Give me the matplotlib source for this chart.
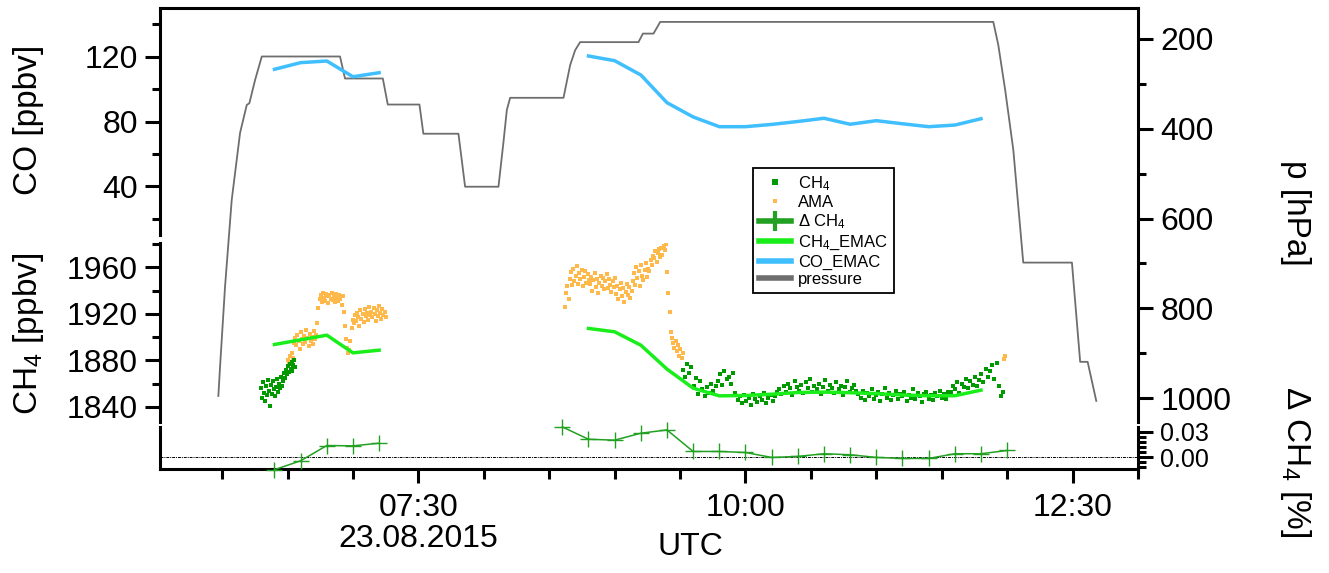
import numpy as np
import matplotlib.pyplot as plt
from matplotlib.ticker import MultipleLocator, FixedLocator, FormatStrFormatter
from matplotlib.lines import Line2D
import matplotlib.transforms as mtransforms

plt.rcParams['font.family'] = ['Liberation Sans', 'DejaVu Sans']
plt.rcParams['mathtext.fontset'] = 'custom'
plt.rcParams['mathtext.rm'] = 'Liberation Sans'
plt.rcParams['mathtext.it'] = 'Liberation Sans:italic'
plt.rcParams['mathtext.bf'] = 'Liberation Sans:bold'

# time axis: hours UTC on 23.08.2015
# flight pressure [hPa]
p_time = [5.971, 5.984, 6.022, 6.073, 6.137, 6.188, 6.208, 6.252, 6.303, 6.901, 6.939,
          7.228, 7.266, 7.508, 7.538, 7.806, 7.857, 8.112, 8.15, 8.176, 8.201, 8.609,
          8.660, 8.698, 8.736, 9.182, 9.216, 9.297, 9.348, 11.894, 11.932, 11.985,
          12.047, 12.123, 12.495, 12.558, 12.615, 12.681]
p_hpa = [995, 930, 752, 559, 409, 347, 343, 291, 239, 239, 288,
         288, 346, 346, 411, 411, 529, 529, 430, 358, 331, 331,
         258, 225, 207, 207, 188, 188, 162, 162, 213, 314,
         447, 698, 698, 919, 919, 1006]

# EMAC model output (12 min)
emac_t1 = [6.4, 6.6, 6.8, 7.0, 7.2]
emac_t2 = [8.8, 9.0, 9.2, 9.4, 9.6, 9.8, 10.0, 10.2, 10.4, 10.6, 10.8, 11.0, 11.2, 11.4, 11.6, 11.8]
co_emac1 = [112.2, 116.3, 117.3, 107.6, 110.1]
co_emac2 = [120.4, 117.5, 108.7, 91.6, 82.8, 76.8, 76.8, 78.2, 80.0, 82.0, 78.3, 80.5, 78.6, 76.8, 77.8, 81.7]
ch4_emac1 = [1893.7, 1897.7, 1901.7, 1886.5, 1888.8]
ch4_emac2 = [1907.5, 1904.6, 1893.1, 1872.5, 1856.1, 1849.5, 1849.8, 1850.9, 1852.4, 1852.7,
             1852.2, 1851.4, 1850.2, 1849.6, 1849.6, 1854.4]

# relative difference [%]
dch4_t1 = [6.4, 6.6, 6.8, 7.0, 7.2]
dch4_t2 = [8.6, 8.8, 9.0, 9.2, 9.4, 9.6, 9.8, 10.0, 10.2, 10.4, 10.6, 10.8, 11.0, 11.2, 11.4, 11.6, 11.8, 12.0]
dch4_1 = [-0.015, -0.0044, 0.0138, 0.0134, 0.0166]
dch4_2 = [0.036, 0.0213, 0.0202, 0.0285, 0.0324, 0.0067, 0.0067, 0.0055, -0.0004, 0.0008,
          0.0040, 0.0028, -0.0004, -0.0016, -0.0016, 0.0040, 0.0040, 0.0079]

# in-situ CH4 [ppbv], green
ch4_a_t = (6.30, 6.56)
ch4_a = [1856, 1848, 1861, 1852, 1845, 1858, 1850, 1863, 1854, 1841, 1859, 1851, 1862, 1855, 1849,
         1857, 1864, 1853, 1860, 1856, 1866, 1858, 1862, 1869, 1865, 1872, 1868, 1875, 1870, 1877,
         1873, 1879, 1871, 1876, 1880, 1874]
ch4_b_t = (9.52, 11.97)
ch4_b = [1872, 1866, 1877, 1869, 1874,
         1858, 1865, 1851, 1862, 1855, 1849,
         1857, 1852, 1860, 1854, 1858,
         1862, 1868, 1859, 1871, 1864, 1866, 1860, 1869,
         1852, 1846, 1849, 1843, 1850, 1845, 1848, 1842, 1851, 1847, 1844, 1849, 1846, 1852, 1843,
         1848, 1850, 1845, 1849, 1853,
         1855, 1851, 1858, 1853, 1860, 1856, 1850, 1862, 1857, 1854, 1859, 1852, 1861, 1856, 1864,
         1853, 1858, 1855, 1860, 1851, 1857, 1863, 1854, 1859, 1856, 1852, 1861, 1855, 1858, 1850,
         1857, 1862, 1853, 1856, 1859, 1854,
         1851, 1848, 1854, 1846, 1852, 1849, 1855, 1847, 1850, 1853, 1845, 1851, 1856, 1848, 1852,
         1846, 1850, 1854, 1847, 1851, 1849, 1853, 1845, 1850, 1848, 1855, 1847, 1852, 1849, 1844,
         1851, 1853, 1847, 1850, 1846, 1852, 1849, 1854, 1848, 1851, 1847, 1853,
         1853, 1858, 1855, 1861, 1852, 1860, 1857, 1864, 1856, 1862, 1859, 1866, 1858, 1863,
         1868, 1861, 1873, 1866, 1871, 1876, 1864, 1878, 1858, 1849, 1853]

# AMA [ppbv], orange
ama_a_t = (6.50, 7.25)
ama_a = [1880, 1877, 1884, 1879, 1886, 1882,
         1895, 1899, 1893, 1902, 1897, 1890, 1904, 1898, 1894, 1901, 1896, 1906, 1899, 1892, 1903,
         1897, 1900, 1894, 1905, 1898, 1902,
         1912, 1925,
         1933, 1936, 1930, 1938, 1934, 1931, 1937, 1935, 1929, 1936, 1933, 1938, 1932, 1935, 1930,
         1937, 1934, 1931, 1936, 1933, 1928, 1935,
         1922, 1910, 1898, 1891, 1886, 1889, 1897,
         1908, 1915, 1912, 1919, 1914, 1921, 1917, 1910, 1923, 1916, 1920, 1913, 1924, 1918, 1921,
         1915, 1926, 1919, 1922, 1917, 1925, 1920, 1914, 1923, 1918, 1927, 1921, 1916, 1924, 1919,
         1922, 1917]
ama_b_t = (8.62, 9.52)
ama_b = [1926, 1938, 1944, 1933,
         1950, 1956, 1945, 1959, 1948, 1953, 1961, 1946, 1955, 1950, 1958, 1944, 1952, 1957, 1947,
         1954, 1949,
         1946, 1952, 1940, 1949, 1955, 1943, 1950, 1938, 1947, 1953, 1944, 1951, 1941, 1948, 1954,
         1942, 1950, 1945, 1939, 1948, 1943, 1951,
         1937, 1944, 1933, 1941, 1947, 1935, 1942, 1930, 1939, 1946, 1936, 1943, 1934, 1940,
         1948, 1955, 1945, 1960, 1951, 1957, 1944, 1962, 1953, 1949, 1958, 1964, 1952, 1959,
         1957, 1966, 1962, 1970, 1968, 1974, 1965, 1972, 1976, 1969, 1977, 1971, 1978, 1975, 1980,
         1956, 1938, 1922, 1904, 1899, 1895, 1891, 1897, 1888, 1893, 1884, 1890, 1882, 1886]
ama_c_t = [11.975, 11.98]
ama_c = [1881, 1884]

# colours
c_ch4 = '#009a00'
c_ama = '#ffb84a'
c_dch4 = '#22a022'
c_ch4e = '#1aee1a'
c_coe = '#40bfff'
c_p = '#6e6e6e'

W, H = 1329, 573
fig = plt.figure(figsize=(W / 100, H / 100), dpi=100)


def box(x0, y0, x1, y1):
    return [x0 / W, 1 - y1 / H, (x1 - x0) / W, (y1 - y0) / H]


lw_sp = 2.2
xlim = (5.525, 13.0)

ax_fr = fig.add_axes(box(160, 8, 1138, 469))
ax_p = fig.add_axes(box(160, 8, 1138, 422), facecolor='none')
ax_co = fig.add_axes(box(160, 8, 1138, 235), facecolor='none')
ax_ch4 = fig.add_axes(box(160, 243, 1138, 422), facecolor='none')
ax_d = fig.add_axes(box(160, 427, 1138, 469), facecolor='none')

for a in [ax_fr, ax_p, ax_co, ax_ch4, ax_d]:
    a.set_xlim(*xlim)
    for s in a.spines.values():
        s.set_linewidth(lw_sp)
        s.set_visible(False)

# frame with time axis
ax_fr.spines['top'].set_visible(True)
ax_fr.spines['bottom'].set_visible(True)
ax_fr.yaxis.set_visible(False)
ax_fr.xaxis.set_major_locator(FixedLocator([7.5, 10.0, 12.5]))
ax_fr.xaxis.set_minor_locator(MultipleLocator(0.5))
ax_fr.set_xticklabels(['07:30\n23.08.2015', '10:00', '12:30'])
ax_fr.tick_params(axis='x', which='major', direction='out', length=10, width=lw_sp,
                  labelsize=23, pad=7)
ax_fr.tick_params(axis='x', which='minor', direction='out', length=7, width=lw_sp)
for lab in ax_fr.get_xticklabels():
    lab.set_linespacing(1.05)
ax_fr.text(9.58, -0.17, 'UTC', fontsize=23, ha='center', va='center',
           transform=mtransforms.blended_transform_factory(ax_fr.transData, ax_fr.transAxes))

# pressure axis (right)
ax_p.plot(p_time, p_hpa, color=c_p, lw=1.3)
ax_p.set_ylim(1053, 131)
ax_p.spines['right'].set_visible(True)
ax_p.xaxis.set_visible(False)
ax_p.yaxis.tick_right()
ax_p.yaxis.set_major_locator(MultipleLocator(200))
ax_p.yaxis.set_minor_locator(MultipleLocator(100))

# CO axis (left, top)
ax_co.plot(emac_t1, co_emac1, color=c_coe, lw=2.5)
ax_co.plot(emac_t2, co_emac2, color=c_coe, lw=2.5)
ax_co.set_ylim(10, 150)
ax_co.spines['left'].set_visible(True)
ax_co.xaxis.set_visible(False)
ax_co.yaxis.set_major_locator(MultipleLocator(40))
ax_co.yaxis.set_minor_locator(MultipleLocator(20))

# CH4 axis (left, middle)
ax_ch4.plot(np.linspace(*ama_a_t, len(ama_a)), ama_a, 's', ms=2.3, mew=0, color=c_ama)
ax_ch4.plot(np.linspace(*ama_b_t, len(ama_b)), ama_b, 's', ms=2.3, mew=0, color=c_ama)
ax_ch4.plot(ama_c_t, ama_c, 's', ms=2.3, mew=0, color=c_ama)
ax_ch4.plot(np.linspace(*ch4_a_t, len(ch4_a)), ch4_a, 's', ms=2.6, mew=0, color=c_ch4)
ax_ch4.plot(np.linspace(*ch4_b_t, len(ch4_b)), ch4_b, 's', ms=2.6, mew=0, color=c_ch4)
ax_ch4.plot(emac_t1, ch4_emac1, color=c_ch4e, lw=2.5)
ax_ch4.plot(emac_t2, ch4_emac2, color=c_ch4e, lw=2.5)
ax_ch4.set_ylim(1827, 1981)
ax_ch4.spines['left'].set_visible(True)
ax_ch4.xaxis.set_visible(False)
ax_ch4.yaxis.set_major_locator(MultipleLocator(40))
ax_ch4.yaxis.set_minor_locator(MultipleLocator(20))

# delta CH4 axis (right, bottom)
ax_d.axhline(0, color='k', lw=0.7, ls=(0, (3, 1, 1, 1)))
ax_d.plot(dch4_t1, dch4_1, color=c_dch4, lw=1.1, marker='+', ms=11, mew=1, clip_on=False)
ax_d.plot(dch4_t2, dch4_2, color=c_dch4, lw=1.1, marker='+', ms=11, mew=1, clip_on=False)
ax_d.set_ylim(-0.0142, 0.0359)
ax_d.spines['left'].set_visible(True)
ax_d.spines['right'].set_visible(True)
ax_d.xaxis.set_visible(False)
ax_d.yaxis.tick_right()
ax_d.yaxis.set_major_locator(FixedLocator([0.0, 0.03]))
ax_d.yaxis.set_minor_locator(FixedLocator([-0.012, -0.006, 0.006, 0.012, 0.018, 0.024]))
ax_d.yaxis.set_major_formatter(FormatStrFormatter('%.2f'))

for a in [ax_p, ax_co, ax_ch4, ax_d]:
    a.tick_params(axis='y', which='major', direction='out', length=11, width=lw_sp,
                  labelsize=23, pad=5)
    a.tick_params(axis='y', which='minor', direction='out', length=6, width=lw_sp)
# the two delta labels sit close together, keep them a bit smaller
ax_d.tick_params(axis='y', which='major', labelsize=18)

# axis titles
fig.text(29 / W, 1 - 120 / H, 'CO [ppbv]', rotation=90, ha='center', va='center', fontsize=24)
fig.text(29 / W, 1 - 334 / H, 'CH$_4$ [ppbv]', rotation=90, ha='center', va='center', fontsize=24)
fig.text(1296 / W, 1 - 213 / H, 'p [hPa]', rotation=270, ha='center', va='center', fontsize=24)
fig.text(1296 / W, 1 - 462 / H, '\u0394 CH$_4$ [%]', rotation=270, ha='center', va='center',
         fontsize=24)

handles = [
    Line2D([], [], ls='none', marker='s', ms=4, mew=0, color=c_ch4, label='CH$_4$'),
    Line2D([], [], ls='none', marker='s', ms=3, mew=0, color=c_ama, label='AMA'),
    Line2D([], [], color=c_dch4, lw=4, marker='+', ms=14, mew=3, label='\u0394 CH$_4$'),
    Line2D([], [], color=c_ch4e, lw=4, label='CH$_4$_EMAC'),
    Line2D([], [], color=c_coe, lw=4, label='CO_EMAC'),
    Line2D([], [], color=c_p, lw=4, label='pressure'),
]
leg = fig.legend(handles=handles, loc='upper left', bbox_to_anchor=(753 / W, 1 - 168 / H),
                 bbox_transform=fig.transFigure, borderaxespad=0, fontsize=12,
                 fancybox=False, edgecolor='k', framealpha=1, handlelength=1.9,
                 handletextpad=0.45, labelspacing=0.15, borderpad=0.35)
leg.get_frame().set_linewidth(1.3)

fig.savefig('out.png', dpi=100)
